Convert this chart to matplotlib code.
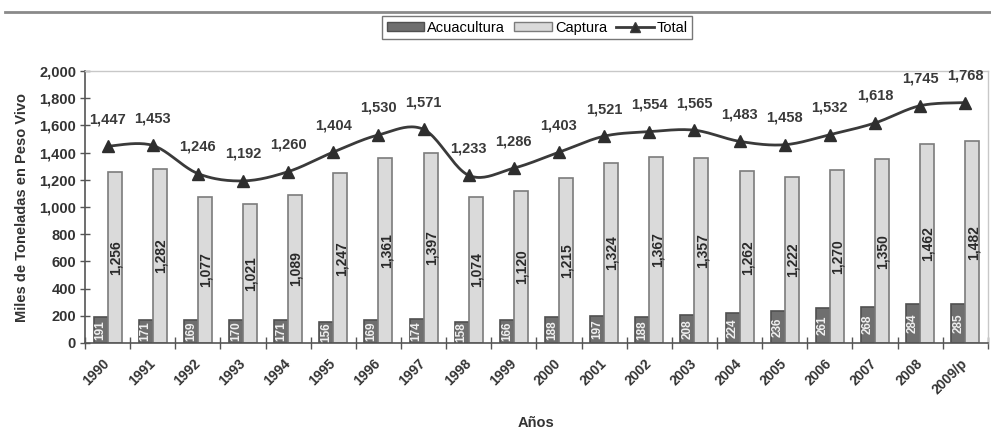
import numpy as np
import matplotlib
matplotlib.use("Agg")
import matplotlib.pyplot as plt
from matplotlib.lines import Line2D
from matplotlib.patches import Patch

plt.rcParams['font.family'] = ['Liberation Sans', 'DejaVu Sans']

years = ["1990", "1991", "1992", "1993", "1994", "1995", "1996", "1997", "1998", "1999",
         "2000", "2001", "2002", "2003", "2004", "2005", "2006", "2007", "2008", "2009/p"]
acuacultura = [191, 171, 169, 170, 171, 156, 169, 174, 158, 166,
               188, 197, 188, 208, 224, 236, 261, 268, 284, 285]
captura = [1256, 1282, 1077, 1021, 1089, 1247, 1361, 1397, 1074, 1120,
           1215, 1324, 1367, 1357, 1262, 1222, 1270, 1350, 1462, 1482]
total = [1447, 1453, 1246, 1192, 1260, 1404, 1530, 1571, 1233, 1286,
         1403, 1521, 1554, 1565, 1483, 1458, 1532, 1618, 1745, 1768]
y_ticks = [0, 200, 400, 600, 800, 1000, 1200, 1400, 1600, 1800, 2000]


def smooth_curve(x, y, steps=24):
    """Catmull-Rom spline through the data points (Excel-style smoothed line)."""
    x = np.asarray(x, float)
    y = np.asarray(y, float)
    px = np.concatenate([[x[0]], x, [x[-1]]])
    py = np.concatenate([[y[0]], y, [y[-1]]])
    xs, ys = [], []
    t = np.linspace(0, 1, steps)
    for i in range(1, len(px) - 2):
        p0, p1, p2, p3 = (np.array([px[j], py[j]]) for j in range(i - 1, i + 3))
        m1 = (p2 - p0) / 6.0
        m2 = (p3 - p1) / 6.0
        b0, b1, b2, b3 = p1, p1 + m1, p2 - m2, p2
        pts = ((1 - t) ** 3)[:, None] * b0 + (3 * (1 - t) ** 2 * t)[:, None] * b1 \
            + (3 * (1 - t) * t ** 2)[:, None] * b2 + (t ** 3)[:, None] * b3
        xs.append(pts[:, 0])
        ys.append(pts[:, 1])
    return np.concatenate(xs), np.concatenate(ys)


fig = plt.figure(figsize=(9.91, 4.44), dpi=100)
ax = fig.add_axes([0.0858, 0.2275, 0.911, 0.6125])

x = np.arange(len(years))
w = 0.31
dark = "#6f6f6f"
light = "#dadada"
text_col = "#333333"

ax.bar(x - w / 2, acuacultura, w, color=dark, edgecolor="#505050", linewidth=1.2, zorder=2)
ax.bar(x + w / 2, captura, w, color=light, edgecolor="#7c7c7c", linewidth=1.2, zorder=2)

for xi, a, c in zip(x, acuacultura, captura):
    ax.text(xi - w / 2, a / 2, f"{a:,}", rotation=90, ha="center", va="center",
            fontsize=8.5, fontweight="bold", color="#f0f0f0", zorder=4)
    ax.text(xi + w / 2 + 0.02, c / 2, f"{c:,}", rotation=90, ha="center", va="center",
            fontsize=10, fontweight="bold", color="#2a2a2a", zorder=4)

sx, sy = smooth_curve(x, total)
ax.plot(sx, sy, color="#3a3a3a", linewidth=2, zorder=3)
ax.plot(x, total, linestyle="none", marker="^", markersize=9,
        color="#2e2e2e", zorder=4)
for xi, t in zip(x, total):
    ax.annotate(f"{t:,}", (xi, t), xytext=(0, 27), textcoords="offset pixels",
                ha="center", va="center", fontsize=10.5, fontweight="bold",
                color="#3a3a3a", zorder=5)

ax.set_xlim(-0.5, len(years) - 0.5)
ax.set_ylim(0, 2000)
ax.set_yticks(y_ticks)
ax.set_yticklabels([f"{v:,}" for v in y_ticks], fontsize=10.5, fontweight="bold", color=text_col)
ax.tick_params(axis="y", direction="inout", length=7, width=1, color="#555555", pad=3)

ax.set_xticks(x)
ax.set_xticklabels(years, rotation=45, ha="right", va="center", rotation_mode="anchor",
                   fontsize=10, fontweight="bold", color=text_col)
ax.tick_params(axis="x", which="major", length=0, pad=13)
ax.set_xticks(np.arange(-0.5, len(years), 1.0), minor=True)
ax.tick_params(axis="x", which="minor", direction="inout", length=8, width=1, color="#555555")

for side in ("top", "right"):
    ax.spines[side].set_color("#c8c8c8")
    ax.spines[side].set_linewidth(1)
ax.spines["left"].set_color("#555555")
ax.spines["left"].set_linewidth(1.2)
ax.spines["bottom"].set_color("#555555")
ax.spines["bottom"].set_linewidth(1.2)

ax.set_ylabel("Miles de Toneladas en Peso Vivo", fontsize=10.5, fontweight="bold",
              color=text_col, labelpad=7)
fig.text(0.541, 0.047, "Años", ha="center", va="center", fontsize=10.5,
         fontweight="bold", color=text_col)

# Rule across the top of the figure
fig.add_artist(Line2D([0.005, 1.0], [0.973, 0.973], transform=fig.transFigure,
                      color="#8a8a8a", linewidth=2))

handles = [Patch(facecolor=dark, edgecolor="#505050", linewidth=1),
           Patch(facecolor=light, edgecolor="#7c7c7c", linewidth=1),
           Line2D([0], [0], color="#3a3a3a", linewidth=2, marker="^",
                  markersize=7, markerfacecolor="#2e2e2e")]
leg = fig.legend(handles, ["Acuacultura", "Captura", "Total"], loc="center",
                 bbox_to_anchor=(0.542, 0.938), ncol=3, fontsize=10.5, frameon=True,
                 fancybox=False, edgecolor="#555555", handlelength=2.6,
                 handleheight=0.55, handletextpad=0.2, columnspacing=0.6,
                 borderpad=0.3)
leg.get_frame().set_linewidth(1)

fig.savefig("out.png", dpi=100)
